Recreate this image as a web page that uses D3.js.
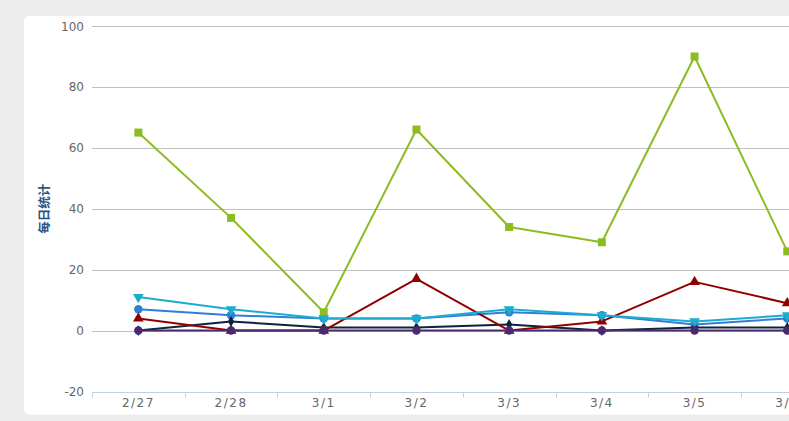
<!DOCTYPE html>
<html>
<head>
<meta charset="utf-8">
<script src="https://cdn.jsdelivr.net/npm/d3@7"></script>
<style>
  html, body { margin: 0; padding: 0; background: #ececec; }
  svg { display: block; }
</style>
</head>
<body>
<svg id="chart" width="789" height="421"></svg>
<script>
// ---- data ----
const categories = ["2/27", "2/28", "3/1", "3/2", "3/3", "3/4", "3/5", "3/6"];
const yTicks = [-20, 0, 20, 40, 60, 80, 100];
const yTitle = "每日统计";

const seriesBlue   = [7, 5, 4, 4, 6, 5, 2, 4];
const seriesNavy   = [0, 3, 1, 1, 2, 0, 1, 1];
const seriesGreen  = [65, 37, 6, 66, 34, 29, 90, 26];
const seriesRed    = [4, 0, 0, 17, 0, 3, 16, 9];
const seriesCyan   = [11, 7, 4, 4, 7, 5, 3, 5];
const seriesPurple = [0, 0, 0, 0, 0, 0, 0, 0];

const series = [
  { values: seriesBlue,   color: "#2f7ed8", symbol: "circle" },
  { values: seriesNavy,   color: "#0d233a", symbol: "diamond" },
  { values: seriesGreen,  color: "#8bbc21", symbol: "square" },
  { values: seriesRed,    color: "#910000", symbol: "triangle" },
  { values: seriesCyan,   color: "#1aadce", symbol: "triangle-down" },
  { values: seriesPurple, color: "#492970", symbol: "circle" }
];

// ---- layout ----
const svg = d3.select("#chart");
const left = 92, plotTop = 26, plotBottom = 391.5;
const bandW = 92.7;

// panel
svg.append("rect")
  .attr("x", 24).attr("y", 16)
  .attr("width", 800).attr("height", 398.5)
  .attr("rx", 5).attr("ry", 5)
  .attr("fill", "#ffffff");

const x = d3.scaleBand()
  .domain(categories)
  .range([left, left + bandW * categories.length])
  .paddingInner(0).paddingOuter(0);

const y = d3.scaleLinear().domain([-20, 100]).range([plotBottom, plotTop]);

// gridlines
svg.append("g").selectAll("line")
  .data(yTicks.filter(t => t !== -20))
  .join("line")
  .attr("x1", left).attr("x2", 789)
  .attr("y1", d => Math.round(y(d)) + 0.5)
  .attr("y2", d => Math.round(y(d)) + 0.5)
  .attr("stroke", "#c0c0c0").attr("stroke-width", 1);

// y labels
svg.append("g").selectAll("text")
  .data(yTicks)
  .join("text")
  .attr("x", 84)
  .attr("y", d => y(d) + 4.5)
  .attr("text-anchor", "end")
  .attr("font-family", "'DejaVu Sans', Verdana, sans-serif")
  .attr("font-size", 12)
  .attr("fill", "#666666")
  .text(d => d);

// y title
svg.append("text")
  .attr("transform", `translate(49, ${(plotTop + plotBottom) / 2}) rotate(-90)`)
  .attr("text-anchor", "middle")
  .attr("font-family", "'Noto Sans CJK SC', sans-serif")
  .attr("font-size", 12.5)
  .attr("font-weight", "bold")
  .attr("fill", "#2e5582")
  .text(yTitle);

// x axis
const xAxis = d3.axisBottom(x).tickSize(0).tickPadding(0);
const xg = svg.append("g")
  .attr("transform", `translate(0, ${Math.round(plotBottom) + 0.5})`)
  .call(xAxis);
xg.select(".domain").attr("stroke", "#c0d0e0").attr("d",
  `M${left},0H${left + bandW * categories.length}`);
xg.selectAll(".tick text")
  .attr("y", 14)
  .attr("dy", 0)
  .attr("font-family", "'DejaVu Sans', Verdana, sans-serif")
  .attr("font-size", 12)
  .attr("fill", "#666666")
  .attr("letter-spacing", 1.5);
// boundary tick marks
const bounds = d3.range(categories.length + 1);
xg.selectAll("line.bound")
  .data(bounds)
  .join("line")
  .attr("class", "bound")
  .attr("x1", i => Math.round(left + i * x.step()) + 0.5)
  .attr("x2", i => Math.round(left + i * x.step()) + 0.5)
  .attr("y1", 0).attr("y2", 5)
  .attr("stroke", "#c0d0e0");

// lines & markers
const cx = (i) => x(categories[i]) + x.bandwidth() / 2;
const line = d3.line().x((d, i) => cx(i)).y(d => y(d));

const symbolMap = {
  "circle": d3.symbolCircle,
  "square": d3.symbolSquare,
  "diamond": d3.symbolDiamond,
  "triangle": d3.symbolTriangle,
  "triangle-down": d3.symbolTriangle
};
const symbolSize = {
  "circle": Math.PI * 18,
  "square": 64,
  "diamond": 34,
  "triangle": 50,
  "triangle-down": 50
};

series.forEach(s => {
  const g = svg.append("g");
  g.append("path")
    .datum(s.values)
    .attr("d", line)
    .attr("fill", "none")
    .attr("stroke", s.color)
    .attr("stroke-width", 2)
    .attr("stroke-linejoin", "round");
  g.selectAll("path.m")
    .data(s.values)
    .join("path")
    .attr("class", "m")
    .attr("d", d3.symbol().type(symbolMap[s.symbol]).size(symbolSize[s.symbol]))
    .attr("transform", (d, i) => `translate(${cx(i)}, ${y(d)})` + (s.symbol === "triangle-down" ? " rotate(180)" : ""))
    .attr("fill", s.color);
});
</script>
</body>
</html>
